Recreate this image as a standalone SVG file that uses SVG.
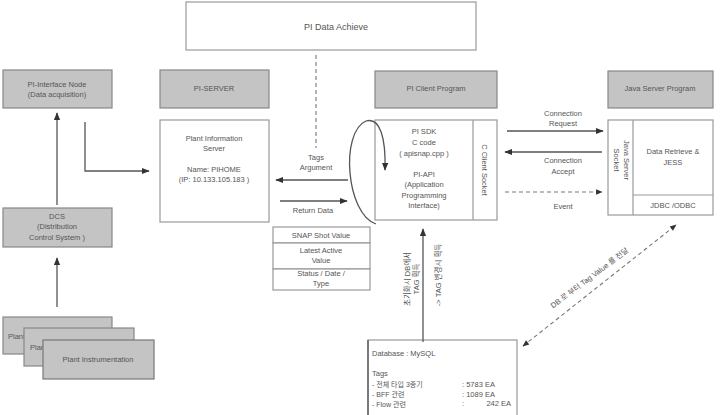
<svg xmlns="http://www.w3.org/2000/svg" width="720" height="415" viewBox="0 0 720 415">
<defs>
<style>
text{font-family:"Liberation Sans","Noto Sans CJK KR",sans-serif;font-size:7.5px;fill:#555;text-anchor:middle}
.l{text-anchor:start}
.e{text-anchor:end}
.k{font-size:7px}
.box{fill:#fff;stroke:#999;stroke-width:1.2}
.gray{fill:#c4c4c4;stroke:#888;stroke-width:1.2}
.ln{fill:none;stroke:#555;stroke-width:1.3}
.dl{fill:none;stroke:#777;stroke-width:1.1;stroke-dasharray:4 3}
</style>
<marker id="ah" viewBox="0 0 10 10" refX="9" refY="5" markerWidth="7" markerHeight="6" orient="auto-start-reverse">
<path d="M0,1 L10,5 L0,9 Z" fill="#333"/>
</marker>
</defs>
<rect width="720" height="415" fill="#fff"/>

<g id="pi-data-achieve">
<rect class="box" x="186" y="2" width="290" height="48"/>
<text x="336" y="30" style="font-size:9px">PI Data Achieve</text>
</g>

<g id="pi-interface-node">
<rect class="gray" x="3" y="70" width="109" height="38"/>
<text x="57" y="87">PI-Interface Node</text>
<text x="57" y="97">(Data acquisition)</text>
</g>

<g id="pi-server">
<rect class="gray" x="160" y="70" width="109" height="38"/>
<text x="214" y="91">PI-SERVER</text>
</g>

<g id="plant-info-server">
<rect class="box" x="160" y="120" width="109" height="102"/>
<text x="214" y="141">Plant Information</text>
<text x="214" y="151">Server</text>
<text x="214" y="172">Name: PIHOME</text>
<text x="214" y="182">(IP: 10.133.105.183 )</text>
</g>

<g id="pi-client-program">
<rect class="gray" x="375" y="71" width="122" height="37"/>
<text x="436" y="91">PI Client Program</text>
</g>

<g id="pi-sdk">
<rect class="box" x="375" y="120" width="122" height="100"/>
<line x1="473" y1="120" x2="473" y2="220" stroke="#999" stroke-width="1.2"/>
<text x="424" y="134">PI SDK</text>
<text x="424" y="145">C code</text>
<text x="424" y="156">( apisnap.cpp )</text>
<text x="424" y="177">PI-API</text>
<text x="424" y="187">(Application</text>
<text x="424" y="198">Programming</text>
<text x="424" y="208">Interface)</text>
<text transform="translate(482,170) rotate(90)">C Client Socket</text>
</g>

<g id="java-server-program">
<rect class="gray" x="608" y="71" width="105" height="37"/>
<text x="660" y="91">Java Server Program</text>
</g>

<g id="java-server">
<rect class="box" x="608" y="120" width="105" height="95"/>
<line x1="633" y1="120" x2="633" y2="215" stroke="#999" stroke-width="1.2"/>
<line x1="633" y1="195" x2="713" y2="195" stroke="#999" stroke-width="1.2"/>
<text transform="translate(624,160) rotate(90)">Java Server</text>
<text transform="translate(614,160) rotate(90)">Socket</text>
<text x="673" y="154">Data Retrieve &amp;</text>
<text x="673" y="165">JESS</text>
<text x="673" y="208">JDBC /ODBC</text>
</g>

<g id="dcs">
<rect class="gray" x="3" y="208" width="109" height="39"/>
<text x="57" y="219">DCS</text>
<text x="57" y="229">(Distribution</text>
<text x="57" y="240">Control System )</text>
</g>

<g id="plant-instrumentation">
<rect class="gray" x="3" y="317" width="109" height="37"/>
<text class="l" x="8" y="339">Plant Instrumentation</text>
<rect class="gray" x="24" y="328" width="110" height="38"/>
<text class="l" x="30" y="350">Plant Instrumentation</text>
<rect class="gray" x="43" y="340" width="111" height="39" style="stroke:#777"/>
<text x="98" y="362">Plant Instrumentation</text>
</g>

<g id="snapshot-table">
<rect class="box" x="273" y="227" width="97" height="16"/>
<rect class="box" x="273" y="243" width="97" height="26"/>
<rect class="box" x="273" y="269" width="97" height="21"/>
<text x="321" y="238">SNAP Shot Value</text>
<text x="321" y="253">Latest Active</text>
<text x="321" y="263">Value</text>
<text x="321" y="276">Status / Date /</text>
<text x="321" y="286">Type</text>
</g>

<g id="database">
<rect class="box" x="368" y="340" width="149" height="80"/>
<line x1="368" y1="340" x2="368" y2="415" stroke="#666" stroke-width="1.6"/>
<text class="l" x="372" y="356">Database : MySQL</text>
<text class="l" x="372" y="376">Tags</text>
<text class="l k" x="372" y="386.5">- 전체 타입 3종기</text>
<text class="l k" x="372" y="396.5">- BFF 관련</text>
<text class="l k" x="372" y="406.5">- Flow 관련</text>
<text class="l" x="462" y="387">: 5783 EA</text>
<text class="l" x="462" y="397">: 1089 EA</text>
<text class="l" x="462" y="406">:</text>
<text class="e" x="511" y="406">242 EA</text>
</g>

<g id="connectors">
<line class="dl" x1="316" y1="55" x2="316" y2="148"/>
<line class="ln" x1="57" y1="205" x2="57" y2="113" marker-end="url(#ah)"/>
<line class="ln" x1="57" y1="307" x2="57" y2="258" marker-end="url(#ah)"/>
<path class="ln" d="M85,122 V171 H149" marker-end="url(#ah)"/>
<line class="ln" x1="348" y1="180" x2="276" y2="180" marker-end="url(#ah)"/>
<text x="316" y="160">Tags</text>
<text x="316" y="170">Argument</text>
<line class="ln" x1="280" y1="201" x2="347" y2="201" marker-end="url(#ah)"/>
<text x="313" y="213">Return Data</text>
<path class="ln" d="M376,224 C346,214 340,132 366,121 C380,117 386,138 385,170" marker-end="url(#ah)"/>
<line class="ln" x1="507" y1="131" x2="603" y2="131" marker-end="url(#ah)"/>
<text x="563" y="116">Connection</text>
<text x="563" y="126">Request</text>
<line class="ln" x1="602" y1="152" x2="505" y2="152" marker-end="url(#ah)"/>
<text x="563" y="163">Connection</text>
<text x="563" y="174">Accept</text>
<line class="dl" x1="505" y1="192" x2="602" y2="192" marker-end="url(#ah)"/>
<text x="563" y="209">Event</text>
<line class="ln" x1="423" y1="342" x2="423" y2="229" marker-end="url(#ah)"/>
<text transform="translate(410,279) rotate(-90)">초기화시 DB에서</text>
<text transform="translate(419,279) rotate(-90)">TAG 획득</text>
<text transform="translate(441,275) rotate(-90)">-&gt; TAG 변경시 획득</text>
<line class="dl" x1="523" y1="346" x2="676" y2="225" marker-start="url(#ah)" marker-end="url(#ah)"/>
<text transform="translate(591,280) rotate(-37)">DB 로 부터 Tag Value 를 전달</text>
</g>
</svg>
